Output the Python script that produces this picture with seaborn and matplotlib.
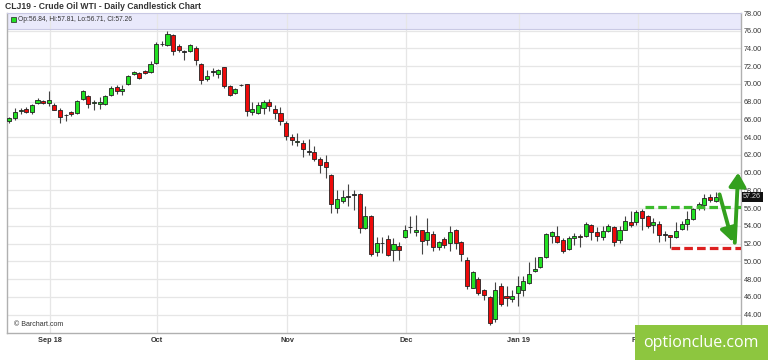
import matplotlib
matplotlib.use("Agg")
import matplotlib.pyplot as plt
import seaborn as sns
import numpy as np
import pandas as pd
from matplotlib.patches import Rectangle
from matplotlib.transforms import blended_transform_factory

# ---- data ----
opens = [65.77, 66.15, 66.90, 67.17, 66.83, 67.80, 68.11, 67.80, 67.58, 67.02,
         66.45, 66.86, 66.68, 68.29, 68.67, 67.84, 67.77, 67.73, 68.74, 69.65,
         69.23, 69.98, 71.11, 71.23, 71.49, 71.34, 72.35, 74.50, 74.35, 75.55,
         74.23, 73.67, 73.67, 74.05, 72.24, 70.55, 71.38, 71.15, 71.86, 69.80,
         68.93, 69.90, 69.94, 66.80, 66.69, 67.25, 67.93, 67.18, 66.69, 65.56,
         64.02, 63.50, 63.29, 62.40, 62.36, 61.50, 61.20, 59.75, 56.02, 56.85,
         57.30, 57.56, 57.56, 53.77, 55.16, 51.02, 52.08, 52.53, 51.32, 51.77,
         52.71, 53.88, 53.32, 53.50, 52.38, 53.13, 51.59, 52.53, 52.08, 53.58,
         52.15, 50.12, 47.00, 48.05, 46.81, 45.98, 43.50, 47.19, 46.14, 45.76,
         46.44, 46.81, 47.56, 48.95, 49.37, 50.46, 52.89, 52.89, 52.44, 51.38,
         52.62, 52.89, 52.81, 54.13, 53.26, 52.74, 53.45, 53.86, 52.36, 53.56,
         54.39, 54.39, 55.63, 55.07, 54.05, 54.24, 53.00, 53.00, 52.74, 53.64,
         54.24, 54.80, 56.12, 56.38, 57.25, 56.84]
highs = [66.26, 67.28, 67.24, 67.35, 67.77, 68.37, 68.22, 69.23, 67.84, 67.24,
         66.60, 66.98, 68.22, 69.35, 68.78, 68.22, 68.52, 68.78, 69.72, 69.91,
         69.91, 71.04, 71.41, 71.34, 71.60, 72.58, 74.76, 74.87, 75.96, 75.66,
         74.53, 73.78, 74.53, 74.31, 72.35, 71.60, 71.79, 71.68, 71.86, 69.91,
         69.53, 69.98, 69.98, 68.00, 67.93, 68.19, 68.27, 67.63, 67.44, 65.82,
         64.36, 64.43, 63.68, 63.76, 63.00, 61.80, 61.95, 59.85, 58.02, 58.09,
         58.73, 58.09, 57.71, 56.21, 55.27, 52.71, 52.75, 53.02, 52.64, 52.15,
         54.14, 55.16, 55.20, 53.58, 54.89, 53.39, 52.26, 52.75, 53.95, 53.65,
         52.26, 50.50, 48.88, 48.20, 46.89, 46.13, 47.64, 47.56, 47.19, 46.81,
         48.39, 48.31, 49.89, 50.46, 50.50, 53.20, 53.38, 53.94, 52.62, 52.81,
         53.19, 53.08, 54.47, 54.20, 53.83, 53.94, 54.20, 53.94, 53.94, 55.14,
         55.63, 55.74, 55.89, 55.26, 54.88, 54.50, 53.38, 53.00, 54.39, 54.50,
         55.63, 56.01, 56.65, 57.62, 57.62, 57.81]
lows = [65.55, 65.96, 66.60, 66.68, 66.60, 67.73, 67.73, 67.54, 67.02, 65.55,
        65.77, 66.34, 66.64, 68.22, 67.28, 67.09, 67.17, 67.65, 68.67, 68.89,
        68.78, 69.91, 71.04, 70.59, 71.15, 71.23, 72.28, 74.23, 74.23, 73.29,
        73.63, 72.65, 73.63, 72.17, 69.98, 70.29, 70.85, 70.66, 69.53, 68.67,
        68.82, 69.72, 66.37, 66.50, 66.61, 66.61, 66.95, 66.01, 65.37, 63.68,
        63.12, 63.00, 61.80, 61.99, 61.35, 60.00, 59.36, 55.50, 55.46, 56.59,
        56.21, 55.83, 53.20, 53.69, 50.65, 50.65, 50.95, 50.65, 50.08, 50.12,
        52.64, 53.20, 52.83, 50.83, 51.89, 51.14, 51.32, 51.51, 51.14, 51.40,
        50.01, 46.89, 47.00, 46.26, 45.67, 42.86, 43.13, 45.01, 44.93, 45.38,
        45.01, 46.06, 47.49, 48.77, 49.26, 50.38, 52.06, 52.06, 50.93, 51.23,
        51.87, 51.61, 52.74, 52.36, 52.25, 52.44, 53.26, 51.68, 52.06, 53.49,
        53.86, 54.13, 53.56, 53.75, 53.19, 52.14, 52.25, 51.50, 52.62, 53.56,
        53.49, 54.62, 55.82, 55.74, 56.68, 56.71]
closes = [66.15, 66.86, 67.09, 66.83, 67.62, 68.22, 67.84, 68.18, 67.09, 66.26,
          66.50, 66.56, 68.03, 69.16, 67.73, 67.99, 67.99, 68.67, 69.53, 69.23,
          69.42, 70.85, 71.30, 70.66, 71.23, 72.28, 74.53, 74.50, 75.66, 73.74,
          73.86, 73.67, 74.35, 72.65, 70.47, 70.92, 71.38, 71.60, 69.72, 68.74,
          69.42, 69.83, 66.93, 67.18, 67.63, 68.00, 67.55, 66.69, 65.82, 64.17,
          63.64, 63.55, 62.68, 62.40, 61.50, 60.86, 60.63, 56.45, 57.04, 57.23,
          57.30, 57.56, 53.77, 55.08, 50.83, 52.08, 52.08, 50.76, 51.96, 51.32,
          53.54, 53.88, 53.58, 52.26, 53.28, 51.59, 52.15, 51.81, 53.28, 52.08,
          50.87, 47.26, 48.77, 46.44, 46.26, 43.05, 46.81, 45.23, 45.87, 46.14,
          47.26, 47.75, 48.61, 49.18, 50.46, 53.05, 53.26, 52.21, 51.12, 52.62,
          52.89, 52.70, 54.24, 53.26, 52.89, 53.45, 53.94, 52.21, 53.56, 54.50,
          54.05, 55.52, 54.88, 53.94, 54.39, 52.92, 53.00, 52.74, 53.45, 54.24,
          54.80, 55.89, 56.50, 57.14, 56.95, 57.26]

month_labels = ["Sep 18", "Oct", "Nov", "Dec", "Jan 19", "Feb"]
month_bar = [8, 27, 50, 71, 91, 112]          # bar number where each month starts
price_ticks = list(range(44, 79, 2))
resistance_level = 56.12
resistance_from_bar = 113.5
support_level = 51.45
support_from_bar = 118.2
arrow_down = [(126.7, 57.55), (129.0, 52.2)]
arrow_up = [(129.4, 52.1), (130.0, 60.0)]
last_close = closes[-1]
title = "CLJ19 - Crude Oil WTI - Daily Candlestick Chart"
info = "Op:56.84, Hi:57.81, Lo:56.71, Cl:57.26"

df = pd.DataFrame({"bar": np.arange(1, len(opens) + 1), "open": opens,
                   "high": highs, "low": lows, "close": closes})

# ---- style ----
sns.set_theme(style="white")
plt.rcParams["font.family"] = ["Liberation Sans", "DejaVu Sans"]

fig = plt.figure(figsize=(7.68, 3.6), dpi=100)
ax = fig.add_axes([7 / 768, 27 / 360, 734 / 768, 320 / 360])
ax.set_facecolor("white")

XMIN, XMAX = 0.6, 130.5
YMIN, YMAX = 41.92, 78.0
ax.set_xlim(XMIN, XMAX)
ax.set_ylim(YMIN, YMAX)

# grid
for t in price_ticks:
    ax.axhline(t, color="#e6e6e6", lw=0.9, zorder=1)
for m in month_bar:
    ax.axvline(m + 0.2, color="#e6e6e6", lw=0.9, zorder=1)

# info bar
ax.add_patch(Rectangle((XMIN, 76.25), XMAX - XMIN, YMAX - 76.25, facecolor="#e9e9fb",
                       edgecolor="none", zorder=0.5))
ax.axhline(76.25, color="#c9c9e4", lw=0.8, zorder=1.5)

# candles
green, red = "#22e022", "#ee0a0a"
diff = df["close"] - df["open"]
flat = diff.abs() < 0.04
cols = np.where(flat, "#222222", np.where(diff >= 0, green, red))
ax.vlines(df["bar"], df["low"], df["high"], color="#444444", lw=0.8, zorder=2)
heights = np.where(flat, 0.06, diff.abs())
bottoms = np.where(flat, df[["open", "close"]].mean(axis=1) - 0.03,
                   df[["open", "close"]].min(axis=1))
ax.bar(df["bar"], heights, bottom=bottoms, width=0.72, color=cols,
       edgecolor="#222222", linewidth=0.6, zorder=3)

# levels
lv = pd.DataFrame({"x": [resistance_from_bar, XMAX, support_from_bar, XMAX],
                   "y": [resistance_level, resistance_level, support_level, support_level],
                   "lvl": ["r", "r", "s", "s"]})
sns.lineplot(data=lv[lv.lvl == "r"], x="x", y="y", ax=ax, color="#3cba2c",
             lw=2.3, dashes=False, zorder=4, legend=False).lines[-1].set_dashes((2.7, 1.3))
sns.lineplot(data=lv[lv.lvl == "s"], x="x", y="y", ax=ax, color="#dd2020",
             lw=2.3, dashes=False, zorder=4, legend=False).lines[-1].set_dashes((2.7, 1.3))

# arrows
for (x0, y0), (x1, y1) in [arrow_down, arrow_up]:
    ax.annotate("", xy=(x1, y1), xytext=(x0, y0), annotation_clip=False,
                arrowprops=dict(arrowstyle="-|>,head_width=0.5,head_length=0.8",
                                lw=2.8, color="#33a01e", shrinkA=0, shrinkB=0,
                                mutation_scale=10, clip_on=False), zorder=6)

ax.set_xlabel("")
ax.set_ylabel("")

# axes
ax.yaxis.tick_right()
ax.set_yticks(price_ticks)
ax.set_yticklabels([f"{t:.2f}" for t in price_ticks])
ax.tick_params(axis="y", which="both", right=True, left=False, direction="in",
               length=3, width=0.7, color="#888888", labelsize=5.2,
               labelcolor="#333333", pad=2)
ax.set_xticks([m + 0.2 for m in month_bar])
ax.set_xticklabels(month_labels, fontweight="bold")
ax.tick_params(axis="x", bottom=True, direction="in", length=2, width=0.7,
               color="#888888", labelsize=5.3, labelcolor="#333333", pad=3)
for s in ["left", "bottom", "right"]:
    ax.spines[s].set_color("#b0b0b0")
    ax.spines[s].set_linewidth(1.0)
ax.spines["top"].set_color("#c9c9e4")
ax.spines["top"].set_linewidth(0.8)

# last price box
tr = blended_transform_factory(ax.transAxes, ax.transData)
ax.text(1.003, last_close, f"{last_close:.2f}", transform=tr, fontsize=5.2,
        color="#dddddd", va="center", ha="left", zorder=7,
        bbox=dict(boxstyle="square,pad=0.2", facecolor="#111111", edgecolor="none"))

# texts
fig.text(5 / 768, 1 - 6.5 / 360, title, fontsize=6.2, fontweight="bold",
         color="#333333", va="center", ha="left")
fig.patches.append(Rectangle((11 / 768, 1 - 22 / 360), 5 / 768, 5 / 360,
                             transform=fig.transFigure, facecolor=green,
                             edgecolor="#222222", lw=0.5, figure=fig, zorder=5))
fig.text(18.5 / 768, 1 - 19.8 / 360, info, fontsize=4.8, color="#333333",
         va="center", ha="left")
fig.text(14 / 768, 1 - 324 / 360, "\u00a9 Barchart.com", fontsize=5.1,
         color="#333333", va="center", ha="left")

# logo
fig.patches.append(Rectangle((635 / 768, 0), 133 / 768, 35 / 360,
                             transform=fig.transFigure, facecolor="#8dc63f",
                             edgecolor="none", figure=fig, zorder=10))
fig.text(701 / 768, 17 / 360, "optionclue.com", fontsize=11.5, color="white",
         family=["Open Sans", "DejaVu Sans"], va="center", ha="center", zorder=11)

fig.savefig("out.png", dpi=100, facecolor="white")
